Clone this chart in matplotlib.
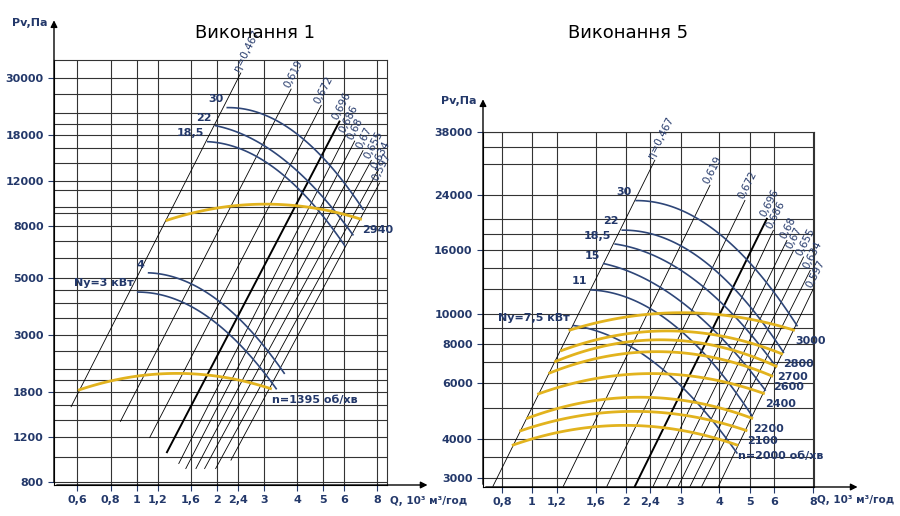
import matplotlib
matplotlib.use("Agg")
import matplotlib.pyplot as plt
import numpy as np

NAVY = "#23386a"
BLUE = "#2e4678"
GOLD = "#e2b31e"

# ---------------- Виконання 1 ----------------
l_xticks = [0.6, 0.8, 1, 1.2, 1.6, 2, 2.4, 3, 4, 5, 6, 8]
l_yticks = [800, 1200, 1800, 3000, 5000, 8000, 12000, 18000, 30000]
l_ygrid = [800, 1000, 1200, 1400, 1600, 1800, 2000, 2200, 2600, 3000, 3500, 4000,
           4500, 5000, 6000, 7000, 8000, 9000, 9500, 11000, 12000, 14000, 16000,
           18000, 20000, 22000, 26000, 30000]

l_eta = ["η=0,467", "0,619", "0,672", "0,696", "0,686", "0,68", "0,67", "0,655", "0,634", "0,597"]
l_eta_q0 = [0.568, 0.87, 1.12, 1.30, 1.44, 1.53, 1.67, 1.80, 1.98, 2.26]
l_eta_p0 = [1575, 1381, 1194, 1047, 946, 904, 904, 904, 904, 975]
l_eta_q1 = [2.46, 3.80, 4.93, 5.77, 6.11, 6.58, 7.07, 7.60, 8.05, 8.16]
l_eta_p1 = [31500, 27260, 23560, 20380, 18110, 17100, 15700, 14380, 13180, 11740]

l_pow = ["30", "22", "18,5", "4", "Ny=3 кВт"]
l_pow_q = [[2.19, 3.39, 4.93, 7.07], [1.98, 3.01, 4.15, 6.48], [1.85, 2.76, 3.91, 6.03],
           [1.11, 1.95, 2.76, 3.58], [1.01, 1.74, 2.46, 3.34]]
l_pow_p = [[23200, 20070, 15240, 9210], [19550, 16640, 12460, 7400], [17100, 14800, 11740, 6670],
           [5260, 4120, 3100, 2100], [4440, 3560, 2850, 1820]]

l_spd = ["2940", "n=1395 об/хв"]
l_spd_q = [[1.30, 2.32, 3.48, 4.93, 6.92], [0.61, 1.04, 1.64, 2.32, 3.18]]
l_spd_p = [[8430, 9460, 9690, 9380, 8430], [1846, 2040, 2140, 2040, 1837]]

# ---------------- Виконання 5 ----------------
r_xticks = [0.8, 1, 1.2, 1.6, 2, 2.4, 3, 4, 5, 6, 8]
r_yticks = [3000, 4000, 6000, 8000, 10000, 16000, 24000, 38000]
r_ygrid = [3000, 3500, 4000, 5000, 6000, 7000, 8000, 9000, 10000, 12000, 14000,
           16000, 18000, 20000, 24000, 30000, 34000, 38000]

r_eta = ["η=0,467", "0,619", "0,672", "0,696", "0,686", "0,68", "0,67", "0,655", "0,634", "0,597"]
r_eta_q0 = [0.749, 1.26, 1.74, 2.14, 2.45, 2.71, 2.95, 3.22, 3.51, 3.97]
r_eta_p0 = [2820] * 10
r_eta_q1 = [2.48, 3.73, 4.83, 5.68, 5.96, 6.59, 6.92, 7.45, 7.83, 8.0]
r_eta_p1 = [30890, 25710, 23000, 20100, 18460, 17150, 15930, 15180, 13760, 11990]

r_pow = ["30", "22", "18,5", "15", "11", "Ny=7,5 кВт"]
r_pow_q = [[2.16, 3.30, 4.90, 7.10], [1.95, 2.99, 4.66, 6.42], [1.85, 2.85, 4.43, 6.04],
           [1.70, 2.45, 3.92, 5.61], [1.55, 2.45, 3.64, 5.08], [1.36, 2.11, 3.14, 4.55]]
r_pow_p = [[23100, 20100, 15180, 9110], [18710, 15930, 11990, 7410], [16750, 14100, 10050, 6810],
           [14460, 12540, 8680, 5720], [11990, 10050, 7500, 4700], [9150, 7880, 5580, 3620]]

r_spd = ["3000", "2800", "2700", "2600", "2400", "2200", "2100", "n=2000 об/хв"]
r_spd_q = [[1.324, 3.47, 6.92], [1.245, 2.85, 6.34], [1.19, 2.99, 6.08], [1.14, 2.85, 5.89],
           [1.05, 2.51, 5.54], [0.968, 2.33, 5.08], [0.92, 2.33, 4.87], [0.87, 2.22, 4.55]]
r_spd_p = [[8880, 10050, 8880], [7640, 8820, 7460], [7050, 8220, 6810], [6480, 7550, 6340],
           [5560, 6450, 5580], [4650, 5420, 4650], [4240, 4880, 4250], [3820, 4400, 3820]]


def smooth(q, p):
    # quadratic in log space through the read points, for a smooth curve
    lq, lp = np.log(q), np.log(p)
    c = np.polyfit(lq, lp, 2 if len(q) > 2 else 1)
    x = np.linspace(lq[0], lq[-1], 60)
    return np.exp(x), np.exp(np.polyval(c, x))


def fmt(v):
    return f"{v:g}".replace(".", ",")


def panel(ax, xlim, ylim, xt, yt, yg, eta, q0, p0, q1, p1, pw, pq, pp, sp, sq, spp, xarrow):
    ax.set_xscale("log")
    ax.set_yscale("log")
    ax.set_xlim(*xlim)
    ax.set_ylim(*ylim)
    for v in xt:
        ax.axvline(v, color="#333", lw=0.8, zorder=0)
    for v in yg:
        ax.axhline(v, color="#333", lw=0.8, zorder=0)
    ax.set_xticks(xt)
    ax.set_xticklabels([fmt(v) for v in xt])
    ax.set_yticks(yt)
    ax.set_yticklabels([str(v) for v in yt])
    ax.minorticks_off()
    ax.tick_params(colors=NAVY, labelsize=8, length=4)
    for lab in ax.get_xticklabels() + ax.get_yticklabels():
        lab.set_fontweight("bold")
    for s in ("top", "right"):
        ax.spines[s].set_color("#333")
    for i, name in enumerate(eta):
        lw = 1.4 if name == "0,696" else 0.6
        ax.plot([q0[i], q1[i]], [p0[i], p1[i]], color="black", lw=lw, zorder=2)
        ax.text(q1[i], p1[i], name, rotation=63, fontsize=7.5, color=NAVY,
                ha="left", va="bottom", rotation_mode="anchor")
    for i, name in enumerate(pw):
        x, y = smooth(pq[i], pp[i])
        ax.plot(x, y, color=BLUE, lw=1.2, zorder=3)
        ax.annotate(name, (pq[i][0], pp[i][0]), xytext=(-3, 2), textcoords="offset points",
                    ha="right", va="bottom", fontsize=8, color=NAVY, fontweight="bold")
    for i, name in enumerate(sp):
        x, y = smooth(sq[i], spp[i])
        ax.plot(x, y, color=GOLD, lw=2, zorder=4)
        ax.annotate(name, (sq[i][-1], spp[i][-1]), xytext=(1, -4), textcoords="offset points",
                    ha="left", va="top", fontsize=8, color=NAVY, fontweight="bold")
    ax.annotate("", xy=(0, 1.1), xytext=(0, 0), xycoords="axes fraction",
                arrowprops=dict(arrowstyle="-|>", color="black", lw=1))
    ax.annotate("", xy=(xarrow, 0), xytext=(0, 0), xycoords="axes fraction",
                arrowprops=dict(arrowstyle="-|>", color="black", lw=1))
    ax.text(-0.02, 1.08, "Pv,Па", transform=ax.transAxes, ha="right", fontsize=8,
            color=NAVY, fontweight="bold")
    ax.text(1.01, -0.045, "Q, 10³ м³/год", transform=ax.transAxes, ha="left", fontsize=7.5,
            color=NAVY, fontweight="bold")


fig = plt.figure(figsize=(9, 5.16), dpi=100)
ax1 = fig.add_axes([54 / 900, 1 - 485 / 516, 333 / 900, 425 / 516])
ax2 = fig.add_axes([483 / 900, 1 - 487 / 516, 331 / 900, 355 / 516])
panel(ax1, (0.49, 8.7), (780, 35400), l_xticks, l_yticks, l_ygrid,
      l_eta, l_eta_q0, l_eta_p0, l_eta_q1, l_eta_p1,
      l_pow, l_pow_q, l_pow_p, l_spd, l_spd_q, l_spd_p, 1.13)
panel(ax2, (0.696, 8.05), (2806, 38000), r_xticks, r_yticks, r_ygrid,
      r_eta, r_eta_q0, r_eta_p0, r_eta_q1, r_eta_p1,
      r_pow, r_pow_q, r_pow_p, r_spd, r_spd_q, r_spd_p, 1.14)
fig.text(255 / 900, 1 - 38 / 516, "Виконання 1", fontsize=13, ha="center")
fig.text(628 / 900, 1 - 38 / 516, "Виконання 5", fontsize=13, ha="center")
fig.savefig("out.png", dpi=100)
